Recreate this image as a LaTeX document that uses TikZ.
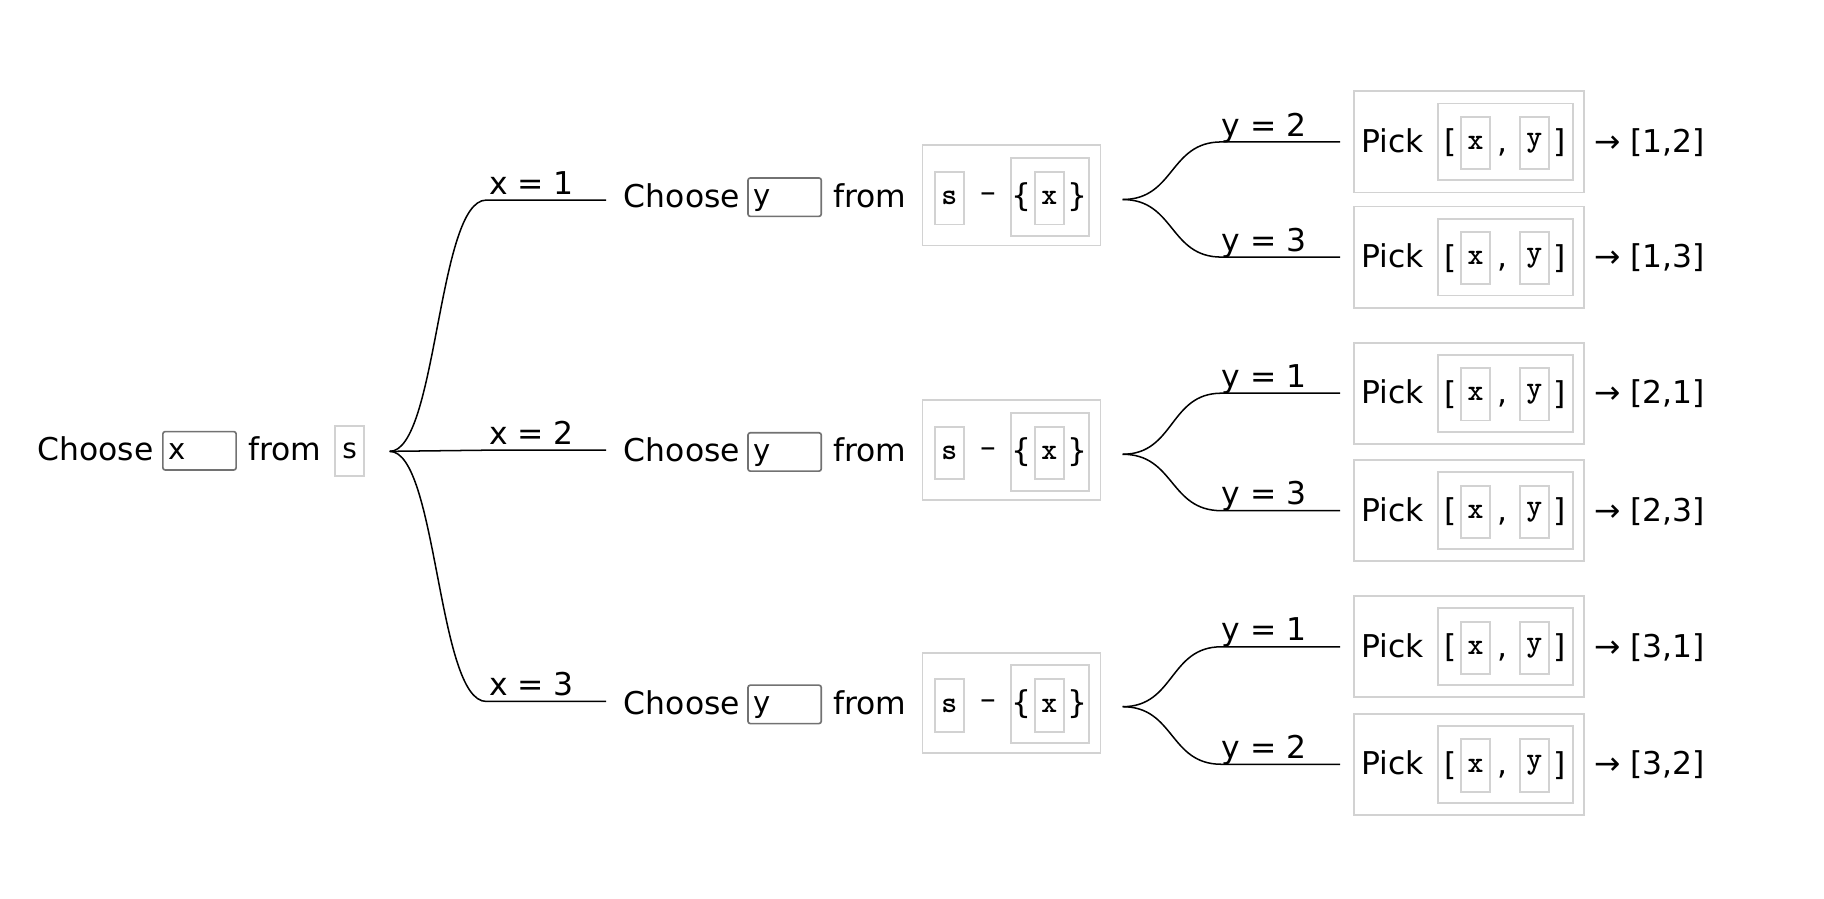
\documentclass[tikz,border=0pt]{standalone}
\usepackage{fontspec}
\setmainfont{DejaVu Sans}
\definecolor{boxgray}{HTML}{D2D2D2}
\definecolor{ingray}{HTML}{727272}
\begin{document}
\begin{tikzpicture}[x=0.5pt,y=-0.5pt,
  txt/.style={inner sep=0pt, font=\fontsize{13.5}{16}\selectfont},
  inbox/.style={draw=ingray, line width=0.7pt, rounded corners=1pt, fill=white,
    minimum width=31.5pt, minimum height=16.5pt, text width=26.5pt, align=left,
    text height=9.5pt, text depth=2.2pt,
    inner xsep=2.5pt, inner ysep=0pt, font=\fontsize{12.5}{15}\selectfont},
  gbox/.style={draw=boxgray, line width=0.8pt, inner sep=0pt},
  sbox/.style={minimum width=12.5pt, minimum height=22.5pt, font=\ttfamily\bfseries\fontsize{13}{15}\selectfont},
  conn/.style={draw=black, line width=0.65pt}]
\useasboundingbox (0,0) rectangle (1568,772);
% root
\node[txt, anchor=base west] (rc) at (32,396) {Choose};
\node[inbox] (rx) at (171.5,387.5) {x};
\node[txt, anchor=base west] (rf) at (213,396) {from};
\node[gbox, minimum width=12.5pt, minimum height=21.5pt, font=\fontsize{12}{14}\selectfont] (rs) at (300.5,387.5) {s};
\coordinate (r0) at (335,388);
\foreach \i/\Y in {1/172,2/387,3/603}{
  \coordinate (bs\i) at (418,\Y);
  \coordinate (be\i) at (521,\Y);
  \draw[conn] (r0) .. controls (376,388) and (376,\Y) .. (bs\i) -- (be\i);
  \node[txt, anchor=base west] (bl\i) at (420,\Y-5) {x = \i};
}
% middle rows
\foreach \i/\Y in {1/168,2/387,3/604}{
  \node[txt, anchor=base west] (mc\i) at (536,\Y+10) {Choose};
  \node[inbox] (my\i) at (674.5,\Y+1.5) {y};
  \node[txt, anchor=base west] (mf\i) at (716,\Y+10) {from};
  \node[gbox, minimum width=76.5pt, minimum height=43pt] (mo\i) at (869.5,\Y) {};
  \node[gbox, sbox] (ms\i) at (816,\Y+2.5) {s};
  \node[txt] (mm\i) at (850,\Y+2) {–};
  \node[gbox, minimum width=33.5pt, minimum height=33.5pt] (mb\i) at (902.5,\Y+1.5) {};
  \node[txt] (ml\i) at (878.5,\Y+1.5) {\{};
  \node[gbox, sbox] (mx\i) at (902,\Y+2.5) {x};
  \node[txt] (mr\i) at (926.5,\Y+1.5) {\}};
  \coordinate (f\i) at (965,\Y+3.5);
}
% leaves
\foreach \k/\m/\F/\L/\v/\res in {a/1/171.5/122/2/{[1,2]}, b/1/171.5/221/3/{[1,3]}, c/2/390.5/338/1/{[2,1]}, d/2/390.5/439/3/{[2,3]}, e/3/607.5/556/1/{[3,1]}, f/3/607.5/657/2/{[3,2]}}{
  \coordinate (ls\k) at (1050,\L);
  \coordinate (le\k) at (1152,\L);
  \draw[conn] (f\m) .. controls (1010,\F) and (1005,\L) .. (ls\k) -- (le\k);
  \node[txt, anchor=base west] (ll\k) at (1050,\L-5) {y = \v};
  \node[gbox, minimum width=99pt, minimum height=43.5pt] (po\k) at (1263,\L) {};
  \node[txt, anchor=base west] (pp\k) at (1170,\L+9) {Pick};
  \node[gbox, minimum width=58pt, minimum height=33pt] (pi\k) at (1294,\L) {};
  \node[txt] (pl\k) at (1247,\L+1) {[};
  \node[gbox, sbox] (px\k) at (1268.5,\L+1) {x};
  \node[txt, anchor=base] (pc\k) at (1292,\L+9) {,};
  \node[gbox, sbox] (py\k) at (1319,\L+1) {y};
  \node[txt] (pr\k) at (1341,\L+1) {]};
  \node[txt, anchor=base west] (pz\k) at (1370,\L+9) {→ \res};
}
\end{tikzpicture}
\end{document}
